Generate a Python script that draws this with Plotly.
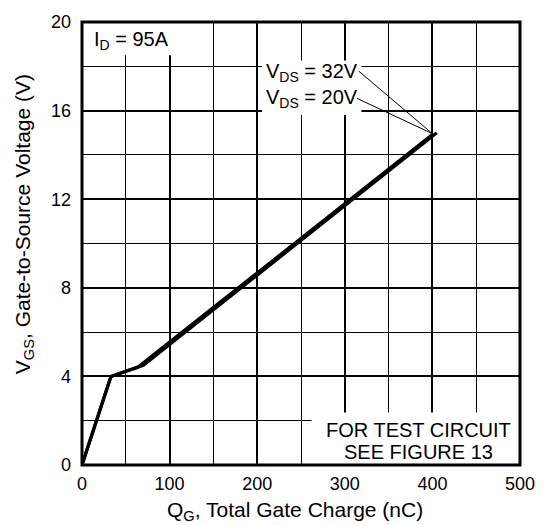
import plotly.graph_objects as go

# Data
qg_32v = [0, 33, 70, 405]
vgs_32v = [0, 4.0, 4.5, 15.0]
qg_20v = [0, 33, 64, 400]
vgs_20v = [0, 4.0, 4.42, 14.92]

x_ticks = [0, 100, 200, 300, 400, 500]
y_ticks = [0, 4, 8, 12, 16, 20]

FONT = "Liberation Sans, Arial, Helvetica, sans-serif"

fig = go.Figure()
fig.add_trace(go.Scatter(x=qg_20v, y=vgs_20v, mode="lines",
                         line=dict(color="black", width=3.2), showlegend=False))
fig.add_trace(go.Scatter(x=qg_32v, y=vgs_32v, mode="lines",
                         line=dict(color="black", width=3.2), showlegend=False))

# white boxes behind labels (cover grid)
for x0, x1, y0, y1 in [(0.5, 105, 18.5, 19.95), (205.6, 319, 15.8, 18.26), (262, 499.5, 0.05, 2.37)]:
    fig.add_shape(type="rect", x0=x0, x1=x1, y0=y0, y1=y1, xref="x", yref="y",
                  fillcolor="white", line=dict(width=0), layer="above")

# leader lines
fig.add_shape(type="line", x0=316, y0=17.78, x1=400, y1=14.96, line=dict(color="black", width=1), layer="above")
fig.add_shape(type="line", x0=314, y0=16.55, x1=400, y1=14.96, line=dict(color="black", width=1), layer="above")

# border
fig.add_shape(type="rect", x0=0, x1=1, y0=0, y1=1, xref="paper", yref="paper",
              line=dict(color="black", width=3), layer="above")

ann_font = dict(family=FONT, size=20, color="black")
fig.add_annotation(x=11, y=19.15, text="I<sub>D</sub> = 95A", showarrow=False,
                   xanchor="left", yanchor="middle", font=ann_font)
fig.add_annotation(x=208, y=17.72, text="V<sub>DS</sub> = 32V", showarrow=False,
                   xanchor="left", yanchor="middle", font=ann_font)
fig.add_annotation(x=208, y=16.56, text="V<sub>DS</sub> = 20V", showarrow=False,
                   xanchor="left", yanchor="middle", font=ann_font)
fig.add_annotation(x=384, y=1.56, text="FOR TEST CIRCUIT", showarrow=False,
                   xanchor="center", yanchor="middle", font=ann_font)
fig.add_annotation(x=384, y=0.58, text="SEE FIGURE 13", showarrow=False,
                   xanchor="center", yanchor="middle", font=ann_font)

# axis titles as annotations for exact placement
title_font = dict(family=FONT, size=21, color="black")
fig.add_annotation(x=(300 - 82) / 449, y=-(512 - 465) / 448, xref="paper", yref="paper",
                   text="Q<sub>G</sub>, Total Gate Charge (nC)", showarrow=False,
                   xanchor="center", yanchor="middle", font=title_font)
fig.add_annotation(x=-(82 - 22) / 449, y=(465 - 221) / 448, xref="paper", yref="paper",
                   text="V<sub>GS</sub>, Gate-to-Source Voltage (V)", showarrow=False,
                   textangle=-90, xanchor="center", yanchor="middle", font=title_font)

fig.update_layout(
    width=547, height=525,
    margin=dict(l=82, r=16, t=17, b=60),
    paper_bgcolor="white", plot_bgcolor="white",
    font=dict(family=FONT, size=18, color="black"),
    xaxis=dict(range=[0, 500], tickvals=x_ticks, ticks="", showgrid=True,
               gridcolor="black", gridwidth=2, zeroline=False, showline=False,
               minor=dict(dtick=50, showgrid=True, gridcolor="black", gridwidth=1),
               ticklabelstandoff=6, tickfont=dict(size=18)),
    yaxis=dict(range=[0, 20], tickvals=y_ticks, ticks="", showgrid=True,
               gridcolor="black", gridwidth=2, zeroline=False, showline=False,
               minor=dict(dtick=2, showgrid=True, gridcolor="black", gridwidth=1),
               ticklabelstandoff=10, tickfont=dict(size=18)),
)

fig.write_html("out.html", config={"displayModeBar": False},
               post_script="document.body.style.margin='0';document.body.style.overflow='hidden';")
